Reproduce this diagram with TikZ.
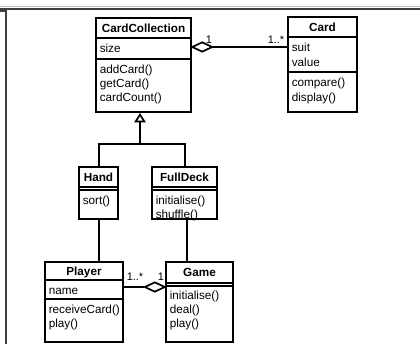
\documentclass[tikz,border=0pt]{standalone}
\usepackage{fontspec}
\setmainfont{Liberation Sans}
\usetikzlibrary{fit,shapes.geometric,arrows.meta}
\begin{document}
\begin{tikzpicture}[x=0.75pt,y=-0.75pt,
  cls/.style={draw, line width=1.5pt, inner sep=0pt},
  sep/.style={line width=1.3pt},
  conn/.style={line width=1.5pt},
  hdr/.style={font=\fontsize{8.8}{10}\selectfont\bfseries, inner sep=0pt, anchor=base},
  mem/.style={font=\fontsize{8.8}{10}\selectfont, inner sep=0pt, anchor=base west},
  mult/.style={font=\fontsize{8.2}{9}\selectfont, inner sep=0pt},
  agg/.style={diamond, draw, line width=1.3pt, fill=white, inner sep=0pt, minimum width=15.5pt, minimum height=7.5pt},
]
\useasboundingbox (0,0) rectangle (420,343);
% frame
\draw[black!25, line width=0.75pt] (0,6.5) -- (420,6.5);
\draw[black!75, line width=1.5pt] (6,344) -- (6,8.5) -- (420,8.5);
\fill[black!75] (0,8) rectangle (6,12);

% CardCollection
\node[cls, fit={(96,18) (191,112)}] (cc) {};
\node[hdr] (cct) at (143.5,32) {CardCollection};
\draw[sep] (96,38) -- (191,38);
\node[mem] (cc1) at (99.5,52) {size};
\draw[sep] (96,59) -- (191,59);
\node[mem] (cc2) at (99.5,73) {addCard()};
\node[mem] (cc3) at (99.5,87) {getCard()};
\node[mem] (cc4) at (99.5,101) {cardCount()};

% Card
\node[cls, fit={(288,17) (357,112)}] (card) {};
\node[hdr] (cardt) at (322.5,31) {Card};
\draw[sep] (288,37) -- (357,37);
\node[mem] (card1) at (291.5,51) {suit};
\node[mem] (card2) at (291.5,66) {value};
\draw[sep] (288,72) -- (357,72);
\node[mem] (card3) at (291.5,86) {compare()};
\node[mem] (card4) at (291.5,101) {display()};

% Hand
\node[cls, fit={(79,167) (118,219)}] (hand) {};
\node[hdr] (handt) at (98.5,181) {Hand};
\draw[sep] (79,187) -- (118,187);
\draw[sep] (79,190) -- (118,190);
\node[mem] (hand1) at (82.5,204) {sort()};

% FullDeck
\node[cls, fit={(152,167) (217,219)}] (fulldeck) {};
\node[hdr] (fdt) at (184.5,181) {FullDeck};
\draw[sep] (152,187) -- (217,187);
\draw[sep] (152,190) -- (217,190);
\node[mem] (fd1) at (155.5,204) {initialise()};
\node[mem] (fd2) at (155.5,218) {shuffle()};

% Player
\node[cls, fit={(45,262) (123,341.5)}] (player) {};
\node[hdr] (plt) at (84,275) {Player};
\draw[sep] (45,280) -- (123,280);
\node[mem] (pl1) at (48.5,294) {name};
\draw[sep] (45,299) -- (123,299);
\node[mem] (pl2) at (48.5,313) {receiveCard()};
\node[mem] (pl3) at (48.5,327) {play()};

% Game
\node[cls, fit={(166,262) (233,341.5)}] (game) {};
\node[hdr] (gmt) at (199.5,276) {Game};
\draw[sep] (166,283) -- (233,283);
\draw[sep] (166,286) -- (233,286);
\node[mem] (gm1) at (169.5,299) {initialise()};
\node[mem] (gm2) at (169.5,313) {deal()};
\node[mem] (gm3) at (169.5,327) {play()};

% aggregation CardCollection - Card
\node[agg, anchor=west] (d1) at (191,47) {};
\draw[conn] (d1.east) -- (d1.east -| card.west);
\node[mult] (m1) at (209,40) {1};
\node[mult] (m2) at (276,40) {1..*};

% aggregation Game - Player
\node[agg, anchor=east] (d2) at (166,287) {};
\draw[conn] (d2.west) -- (d2.west -| player.east);
\node[mult] (m3) at (135,277) {1..*};
\node[mult] (m4) at (161,277) {1};

% generalization
\coordinate (bus) at (140,144);
\draw[conn] (hand.north) -- (hand.north |- bus) -- (fulldeck.north |- bus) -- (fulldeck.north);
\draw[conn, -{Triangle[open, width=8.5pt, length=7pt, line width=1.3pt]}] (bus) -- (bus |- cc.south);

% other associations
\draw[conn] (hand.south) -- (hand.south |- player.north);
\draw[conn] ([xshift=2pt]fulldeck.south) -- ([xshift=2pt]fulldeck.south |- game.north);
\end{tikzpicture}
\end{document}
